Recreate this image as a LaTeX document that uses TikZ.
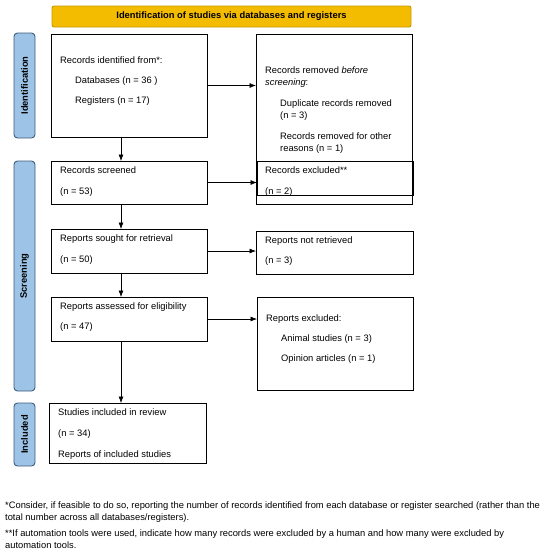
\documentclass[tikz,border=0pt]{standalone}
\usepackage{fontspec}
\setmainfont{Liberation Sans}
\usetikzlibrary{arrows.meta}

\definecolor{hdrfill}{RGB}{244,188,0}
\definecolor{hdrline}{RGB}{196,154,0}
\definecolor{sidefill}{RGB}{157,195,230}
\definecolor{sideline}{RGB}{62,92,124}

\tikzset{
    box/.style={draw=black, line width=0.9pt, anchor=north west, inner sep=0pt, outer sep=0pt},
    sidebar/.style={draw=sideline, fill=sidefill, line width=0.9pt, rounded corners=3.5pt, anchor=north west, inner sep=0pt, outer sep=0pt, minimum width=21pt},
    txt/.style={anchor=mid west, inner sep=0pt, font=\fontsize{9.35}{11}\selectfont},
    sidetxt/.style={rotate=90, inner sep=0pt, font=\fontsize{9.35}{11}\selectfont\bfseries},
    arr/.style={line width=0.6pt, -{Latex[length=6.5pt,width=5pt]}}
}

\begin{document}
\begin{tikzpicture}[x=1pt, y=-1pt]
    \useasboundingbox (0,0) rectangle (550,554);

    % header and phase bars
    \node[box, draw=hdrline, fill=hdrfill, rounded corners=2pt, minimum width=359pt, minimum height=21pt] (header) at (52,6) {};
    \node[txt, anchor=center, font=\fontsize{9.35}{11}\selectfont\bfseries] (headerT) at (header.center) {Identification of studies via databases and registers};
    \node[sidebar, minimum height=105pt] (barIdent) at (14,33) {};
    \node[sidebar, minimum height=230pt] (barScreen) at (14,161) {};
    \node[sidebar, minimum height=63pt] (barIncl) at (14,403) {};
    \node[sidetxt] (barIdentT) at (barIdent.center) {Identification};
    \node[sidetxt] (barScreenT) at (barScreen.center) {Screening};
    \node[sidetxt] (barInclT) at (barIncl.center) {Included};

    % boxes
    \node[box, minimum width=156pt, minimum height=103pt] (ident) at (51,34) {};
    \node[box, minimum width=156pt, minimum height=170pt] (removed) at (256,34) {};
    \node[box, minimum width=156pt, minimum height=43pt] (screened) at (51,161) {};
    \node[box, minimum width=156pt, minimum height=34pt] (excluded) at (257,161) {};
    \node[box, minimum width=156pt, minimum height=44pt] (sought) at (51,229) {};
    \node[box, minimum width=157pt, minimum height=43pt] (notretr) at (256,231) {};
    \node[box, minimum width=156pt, minimum height=44pt] (assessed) at (51,297) {};
    \node[box, minimum width=156pt, minimum height=93pt] (repexcl) at (257,297) {};
    \node[box, minimum width=157pt, minimum height=60pt] (studies) at (49,403) {};

    % box texts
    \node[txt] (identT1) at (60,61) {Records identified from*:};
    \node[txt] (identT2) at (75,81) {Databases (n = 36 )};
    \node[txt] (identT3) at (75,101) {Registers (n = 17)};
    \node[txt] (removedT1) at (265,71) {Records removed \textit{before}};
    \node[txt] (removedT2) at (265,83) {\textit{screening}:};
    \node[txt] (removedT3) at (280,104) {Duplicate records removed};
    \node[txt] (removedT4) at (280,116) {(n = 3)};
    \node[txt] (removedT5) at (280,137) {Records removed for other};
    \node[txt] (removedT6) at (280,149) {reasons (n = 1)};
    \node[txt] (screenedT1) at (60,171) {Records screened};
    \node[txt] (screenedT2) at (60,192) {(n = 53)};
    \node[txt] (excludedT1) at (265,171) {Records excluded**};
    \node[txt] (excludedT2) at (265,192) {(n = 2)};
    \node[txt] (soughtT1) at (60,239) {Reports sought for retrieval};
    \node[txt] (soughtT2) at (60,260) {(n = 50)};
    \node[txt] (notretrT1) at (265,241) {Reports not retrieved};
    \node[txt] (notretrT2) at (265,261) {(n = 3)};
    \node[txt] (assessedT1) at (60,307) {Reports assessed for eligibility};
    \node[txt] (assessedT2) at (60,327) {(n = 47)};
    \node[txt] (repexclT1) at (266,319) {Reports excluded:};
    \node[txt] (repexclT2) at (281,339) {Animal studies (n = 3)};
    \node[txt] (repexclT3) at (281,359) {Opinion articles (n = 1)};
    \node[txt] (studiesT1) at (58,413) {Studies included in review};
    \node[txt] (studiesT2) at (58,434) {(n = 34)};
    \node[txt] (studiesT3) at (58,455) {Reports of included studies};

    % footnotes
    \node[txt] (note1a) at (5,506) {*Consider, if feasible to do so, reporting the number of records identified from each database or register searched (rather than the};
    \node[txt] (note1b) at (5,518) {total number across all databases/registers).};
    \node[txt] (note2a) at (5,534) {**If automation tools were used, indicate how many records were excluded by a human and how many were excluded by};
    \node[txt] (note2b) at (5,546) {automation tools.};

    % connectors
    \coordinate (spine) at (121,0);
    \draw[arr] (ident.south -| spine) -- (screened.north -| spine);
    \draw[arr] (screened.south -| spine) -- (sought.north -| spine);
    \draw[arr] (sought.south -| spine) -- (assessed.north -| spine);
    \draw[arr] (assessed.south -| spine) -- (studies.north -| spine);
    \draw[arr] (ident.east) -- (ident.east -| removed.west);
    \draw[arr] (screened.east) -- (screened.east -| excluded.west);
    \draw[arr] (sought.east) -- (sought.east -| notretr.west);
    \draw[arr] (assessed.east) -- (assessed.east -| repexcl.west);
\end{tikzpicture}
\end{document}
